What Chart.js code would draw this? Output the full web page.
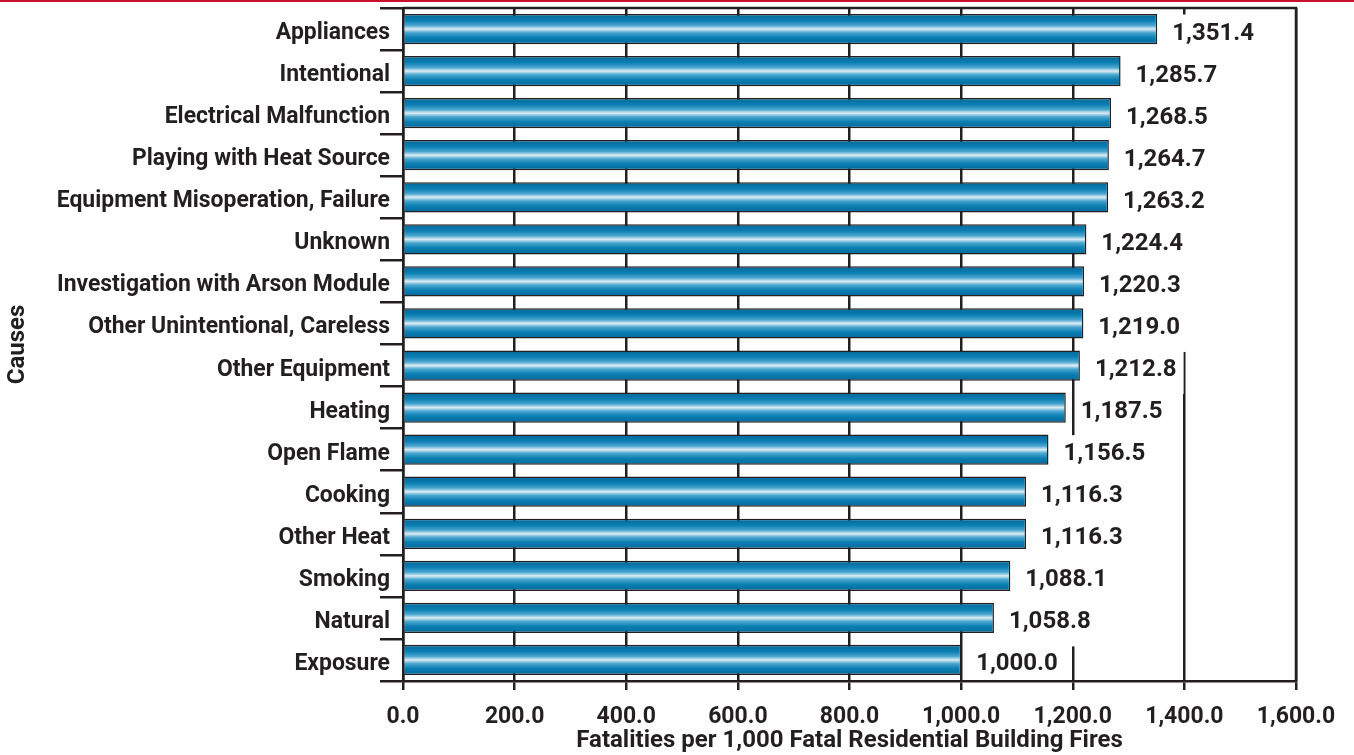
<!DOCTYPE html>
<html>
<head>
<meta charset="utf-8">
<title>Fatalities per 1,000 Fatal Residential Building Fires by Cause</title>
<script src="https://cdn.jsdelivr.net/npm/chart.js@4/dist/chart.umd.min.js"></script>
<style>
  html, body { margin: 0; padding: 0; background: #ffffff; }
  #wrap { position: relative; width: 1354px; height: 755px; }
  #topRule { position: absolute; left: 0; top: 0; width: 1354px; height: 2px; background: #c8102e; z-index: 2; }
  canvas { position: absolute; left: 0; top: 0; }
</style>
</head>
<body>
<div id="wrap">
  <div id="topRule"></div>
  <canvas id="chart" width="1354" height="755"></canvas>
</div>
<script>
// Causes of fatal residential building fires, listed top to bottom
const causes = [
  'Appliances',
  'Intentional',
  'Electrical Malfunction',
  'Playing with Heat Source',
  'Equipment Misoperation, Failure',
  'Unknown',
  'Investigation with Arson Module',
  'Other Unintentional, Careless',
  'Other Equipment',
  'Heating',
  'Open Flame',
  'Cooking',
  'Other Heat',
  'Smoking',
  'Natural',
  'Exposure'
];

// Fatalities per 1,000 fatal residential building fires
const fatalities = [
  1351.4, 1285.7, 1268.5, 1264.7, 1263.2, 1224.4, 1220.3, 1219.0,
  1212.8, 1187.5, 1156.5, 1116.3, 1116.3, 1088.1, 1058.8, 1000.0
];

// Horizontal axis tick labels (0 to 1,600 in steps of 200)
const xTickLabels = [
  '0.0', '200.0', '400.0', '600.0', '800.0',
  '1,000.0', '1,200.0', '1,400.0', '1,600.0'
];

const INK = '#231f20';
const FONT = "Roboto, 'Liberation Sans', sans-serif";
const CAUSE_SQUEEZE = 0.955;   // horizontal compression for the cause names

const fmt = v => v.toLocaleString('en-US', { minimumFractionDigits: 1, maximumFractionDigits: 1 });

// Gives every bar a tube-like vertical blue gradient
const tubeShading = {
  id: 'tubeShading',
  beforeDatasetsDraw(chart) {
    const ctx = chart.ctx;
    chart.getDatasetMeta(0).data.forEach(el => {
      const top = el.y - el.height / 2;
      const g = ctx.createLinearGradient(0, top, 0, top + el.height);
      g.addColorStop(0.00, '#05679a');
      g.addColorStop(0.22, '#0b7fb3');
      g.addColorStop(0.38, '#4aa6cf');
      g.addColorStop(0.50, '#dcedf5');
      g.addColorStop(0.62, '#4aa6cf');
      g.addColorStop(0.78, '#0b7fb3');
      g.addColorStop(1.00, '#05679a');
      el.options.backgroundColor = g;
    });
  }
};

// Value labels on white boxes to the right of each bar
const valueLabels = {
  id: 'valueLabels',
  afterDatasetsDraw(chart) {
    const { ctx, chartArea: a } = chart;
    ctx.save();
    // keep the label boxes inside the plot frame
    ctx.beginPath();
    ctx.rect(a.left + 2, a.top + 2, a.right - a.left - 4, a.bottom - a.top - 3.5);
    ctx.clip();
    ctx.font = 'bold 24px ' + FONT;
    ctx.textBaseline = 'alphabetic';
    ctx.textAlign = 'left';
    chart.getDatasetMeta(0).data.forEach((el, i) => {
      const txt = fmt(fatalities[i]);
      const x = el.x + 15;
      const w = ctx.measureText(txt).width;
      ctx.fillStyle = '#ffffff';
      ctx.fillRect(x - 3, el.y - 14.5, w + 10, 43);
      ctx.fillStyle = INK;
      ctx.fillText(txt, x, el.y + 10.5);
    });
    ctx.restore();
  }
};

// Cause names along the vertical axis, right aligned against the tick marks
const causeLabels = {
  id: 'causeLabels',
  afterDraw(chart) {
    const ctx = chart.ctx;
    const y = chart.scales.y;
    ctx.save();
    ctx.font = 'bold 24px ' + FONT;
    ctx.fillStyle = INK;
    ctx.textAlign = 'right';
    ctx.textBaseline = 'alphabetic';
    causes.forEach((name, i) => {
      const py = y.getPixelForTick(i);
      ctx.save();
      ctx.translate(y.right - 13, py + 10);
      ctx.scale(CAUSE_SQUEEZE, 1);
      ctx.fillText(name, 0, 0);
      ctx.restore();
    });
    ctx.restore();
  }
};

// Closes the plot frame along the top and right edges
const frameTop = {
  id: 'frameTop',
  afterDraw(chart) {
    const { ctx, chartArea: a } = chart;
    ctx.save();
    ctx.strokeStyle = INK;
    ctx.lineWidth = 2.5;
    ctx.beginPath();
    ctx.moveTo(a.left, a.top);
    ctx.lineTo(a.right + 1.25, a.top);
    ctx.moveTo(a.right, a.top);
    ctx.lineTo(a.right, a.bottom);
    ctx.stroke();
    ctx.restore();
  }
};

new Chart(document.getElementById('chart'), {
  type: 'bar',
  data: {
    labels: causes,
    datasets: [{
      data: fatalities,
      backgroundColor: () => '#0b7fb3',
      borderColor: INK,
      borderWidth: 1.5,
      borderSkipped: 'start',
      barPercentage: 0.72,
      categoryPercentage: 1.0
    }]
  },
  options: {
    indexAxis: 'y',
    responsive: false,
    animation: false,
    devicePixelRatio: 1,
    layout: { padding: { top: 8, right: 58, left: 0, bottom: 0 } },
    plugins: {
      legend: { display: false },
      tooltip: { enabled: false },
      title: { display: false }
    },
    scales: {
      x: {
        type: 'linear',
        min: 0,
        max: 1600,
        ticks: {
          stepSize: 200,
          color: INK,
          font: { family: FONT, size: 23, weight: 'bold' },
          padding: 13,
          maxRotation: 0,
          callback: (v, i) => xTickLabels[i]
        },
        grid: {
          color: INK,
          lineWidth: 2.5,
          drawOnChartArea: true,
          drawTicks: true,
          tickLength: 9,
          tickColor: INK
        },
        border: { display: true, color: INK, width: 2.5 },
        title: {
          display: true,
          text: 'Fatalities per 1,000 Fatal Residential Building Fires',
          color: INK,
          font: { family: FONT, size: 24, weight: 'bold' },
          padding: { top: 0, bottom: 0 }
        },
        afterFit: s => { s.height = 74; }
      },
      y: {
        type: 'category',
        ticks: {
          display: false,
          autoSkip: false
        },
        grid: {
          offset: true,
          drawOnChartArea: false,
          drawTicks: true,
          tickLength: 23,
          tickColor: INK,
          lineWidth: 2.5,
          color: INK
        },
        border: { display: true, color: INK, width: 2.5 },
        title: {
          display: true,
          text: 'Causes',
          color: INK,
          font: { family: FONT, size: 24, weight: 'bold' },
          padding: { top: 4, bottom: 0 }
        },
        afterFit: s => { s.width = 403; }
      }
    }
  },
  plugins: [tubeShading, valueLabels, causeLabels, frameTop]
});
</script>
</body>
</html>
